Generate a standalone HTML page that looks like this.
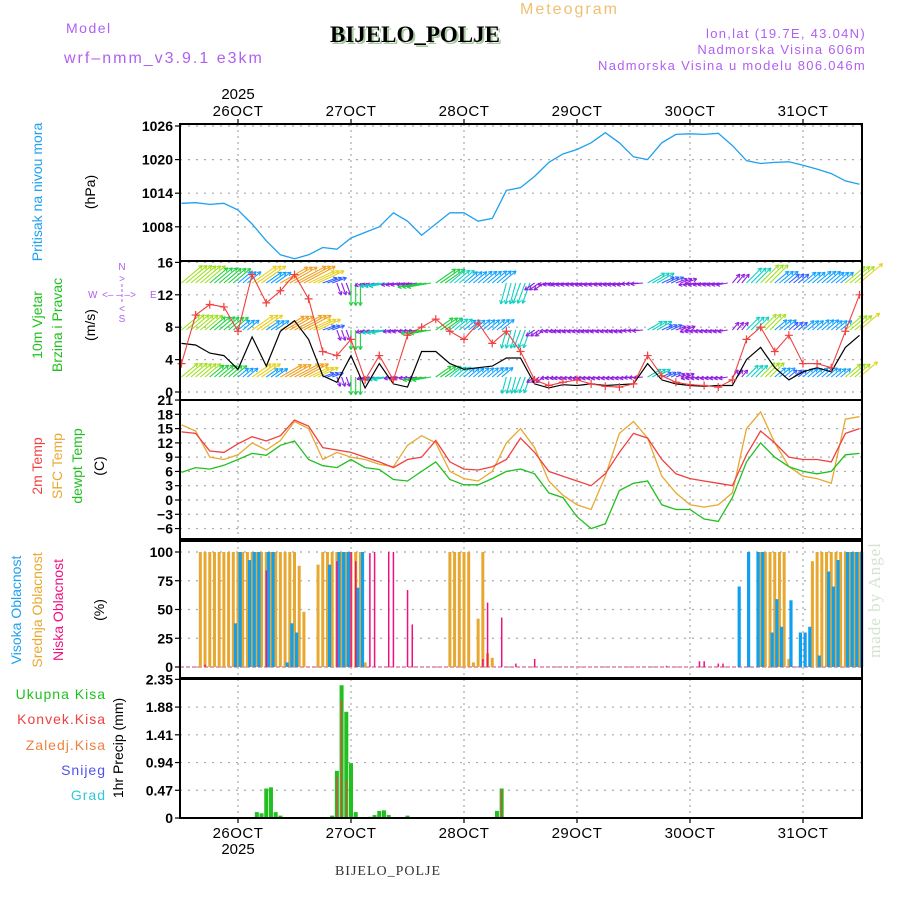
<!DOCTYPE html>
<html><head><meta charset="utf-8"><title>Meteogram BIJELO_POLJE</title>
<style>
html,body{margin:0;padding:0;background:#fff;}
svg{display:block;font-family:"Liberation Sans",sans-serif;}
</style></head>
<body>
<svg id="chart" width="900" height="900" viewBox="0 0 900 900" xmlns="http://www.w3.org/2000/svg">
<rect width="900" height="900" fill="#fff"/>
<text x="66" y="33" fill="#b060f0" font-size="14" letter-spacing="1.5">Model</text>
<text x="64" y="63" fill="#b060f0" font-size="16" letter-spacing="2">wrf–nmm_v3.9.1 e3km</text>
<text x="520" y="14" fill="#f0c070" font-size="16" letter-spacing="2">Meteogram</text>
<text x="332" y="44" fill="#a8c8a0" font-size="23" font-weight="bold" font-family="Liberation Serif,serif">BIJELO_POLJE</text>
<text x="330" y="42" fill="#000" font-size="23" font-weight="bold" font-family="Liberation Serif,serif">BIJELO_POLJE</text>
<text x="866" y="38" fill="#b060f0" font-size="13" letter-spacing="1.3" text-anchor="end">lon,lat (19.7E, 43.04N)</text>
<text x="866" y="54" fill="#b060f0" font-size="13" letter-spacing="1.3" text-anchor="end">Nadmorska Visina 606m</text>
<text x="866" y="70" fill="#b060f0" font-size="13" letter-spacing="1.3" text-anchor="end">Nadmorska Visina u modelu 806.046m</text>
<text x="880" y="600" fill="#d4e4d0" font-size="17" font-family="Liberation Serif,serif" letter-spacing="1" transform="rotate(-90 880 600)" text-anchor="middle">made by Angel</text>
<g id="g-grid"></g>
<g id="g-data"></g>
<g id="g-axes"></g>
<g id="g-labels" font-size="14">
<text transform="translate(42,192) rotate(-90)" text-anchor="middle" fill="#1ea0f0">Pritisak na nivou mora</text>
<text transform="translate(95,192) rotate(-90)" text-anchor="middle" fill="#000">(hPa)</text>
<text transform="translate(42,325) rotate(-90)" text-anchor="middle" fill="#20c020">10m Vjetar</text>
<text transform="translate(62,325) rotate(-90)" text-anchor="middle" fill="#20c020">Brzina i Pravac</text>
<text transform="translate(95,325) rotate(-90)" text-anchor="middle" fill="#000">(m/s)</text>
<g fill="#b060f0" font-size="10">
<text x="122" y="270" text-anchor="middle">N</text><text x="122" y="282" text-anchor="middle">&gt;</text>
<text x="88" y="298">W</text><text x="102" y="298">&lt;– – –&gt;</text><text x="150" y="298">E</text>
<text x="122" y="312" text-anchor="middle">&lt;</text><text x="122" y="322" text-anchor="middle">S</text>
<line x1="122" y1="284" x2="122" y2="304" stroke="#b060f0" stroke-dasharray="3,2"/>
</g>
<text transform="translate(42,466) rotate(-90)" text-anchor="middle" fill="#f04040">2m Temp</text>
<text transform="translate(62,466) rotate(-90)" text-anchor="middle" fill="#e8a830">SFC Temp</text>
<text transform="translate(82,466) rotate(-90)" text-anchor="middle" fill="#20c020">dewpt Temp</text>
<text transform="translate(104,466) rotate(-90)" text-anchor="middle" fill="#000">(C)</text>
<text transform="translate(21,610) rotate(-90)" text-anchor="middle" fill="#1ea0f0">Visoka Oblacnost</text>
<text transform="translate(42,610) rotate(-90)" text-anchor="middle" fill="#e8a830">Srednja Oblacnost</text>
<text transform="translate(63,610) rotate(-90)" text-anchor="middle" fill="#f01080">Niska Oblacnost</text>
<text transform="translate(104,610) rotate(-90)" text-anchor="middle" fill="#000">(%)</text>
<g text-anchor="end" font-size="14" letter-spacing="1">
<text x="106" y="699" fill="#20c020">Ukupna Kisa</text>
<text x="106" y="724" fill="#f04040">Konvek.Kisa</text>
<text x="106" y="750" fill="#f08040">Zaledj.Kisa</text>
<text x="106" y="775" fill="#5050f0">Snijeg</text>
<text x="106" y="800" fill="#30c8d8">Grad</text>
</g>
<text transform="translate(123,748) rotate(-90)" text-anchor="middle" fill="#000">1hr Precip (mm)</text>
<text x="388" y="875" text-anchor="middle" font-family="Liberation Serif,serif" font-size="14" fill="#333" letter-spacing="1">BIJELO_POLJE</text>
</g>
</svg>
<script>
// ---- data (3-hourly, starting 25OCT 12Z, hour offsets relative to 26OCT 00Z) ----
const startHour = -12;
const stepHours = 3;
const dayLabels = ["26OCT","27OCT","28OCT","29OCT","30OCT","31OCT"];
const pressure = [1012.2,1012.3,1012.0,1012.2,1011.0,1008.5,1005.5,1003.0,1002.3,1003.0,1004.3,1004.0,1006.0,1007.0,1008.0,1010.5,1009.0,1006.5,1008.5,1010.5,1010.5,1009.0,1009.5,1014.5,1015.0,1017.0,1019.5,1021.0,1021.8,1023.0,1024.8,1023.0,1020.5,1020.0,1023.0,1024.5,1024.6,1024.5,1024.7,1022.5,1019.8,1019.3,1019.5,1019.6,1019.0,1018.3,1017.5,1016.2,1015.6];
const windSpeed = [6.0,5.8,4.8,4.5,2.8,6.8,3.2,7.5,8.8,6.5,2.0,1.2,4.5,0.5,3.5,1.0,0.6,5.0,5.0,3.5,2.8,3.0,3.2,4.2,4.2,1.0,0.5,0.9,0.8,1.0,0.8,0.9,1.0,3.5,1.5,1.0,0.8,0.7,0.8,0.8,4.0,5.5,3.0,1.5,2.5,3.0,2.5,5.5,7.0];
const windGust = [3.5,9.5,10.8,10.5,7.5,14.5,11.0,12.5,14.5,11.5,5.0,4.5,6.5,1.5,4.5,1.5,7.0,8.0,9.0,7.5,6.5,8.5,6.0,7.5,5.0,1.5,0.8,1.2,1.5,1.0,0.7,0.6,1.0,4.5,2.0,1.2,0.9,0.8,0.6,1.5,6.5,8.0,5.0,7.0,3.5,3.5,3.0,7.5,12.0];
const windDir = [50,50,50,50,50,55,55,60,62,65,70,160,180,255,260,260,260,260,55,50,50,50,50,195,200,235,260,260,260,260,260,260,265,60,65,70,260,260,260,40,45,45,50,50,50,50,50,50,50];
const temp2m = [14.3,14.0,10.3,10.0,11.8,13.3,12.4,13.5,16.8,15.5,11.0,10.5,10.0,9.0,8.0,6.8,8.5,9.0,12.5,8.0,6.5,6.3,7.0,8.5,13.0,10.0,6.0,5.0,4.0,3.0,5.5,10.0,14.0,13.0,8.5,5.5,4.5,4.0,3.5,3.0,9.5,14.5,12.0,9.0,8.5,8.5,8.0,14.0,15.0];
const tempSfc = [15.8,14.5,9.0,8.5,9.5,12.0,10.5,12.5,16.5,15.0,8.5,10.0,9.0,8.5,7.5,7.0,11.5,13.5,12.0,6.0,4.5,4.0,6.0,12.0,15.0,11.0,4.0,1.0,-1.0,-2.0,5.0,14.0,16.5,13.0,5.0,1.5,-1.0,-1.5,-1.0,1.5,15.0,18.5,12.0,7.0,5.0,4.5,3.5,17.0,17.5];
const dewpoint = [5.8,6.8,6.5,7.3,8.5,9.8,9.4,11.5,12.4,8.5,7.2,6.8,8.5,6.8,6.4,4.3,4.0,6.0,8.0,4.3,3.2,3.2,4.5,6.0,6.5,5.5,1.5,0.5,-3.5,-6.0,-5.0,2.0,3.5,4.0,-1.0,-2.0,-2.0,-4.0,-4.5,0.5,8.0,12.0,9.0,7.0,6.0,5.5,6.0,9.5,9.8];
// hourly cloud cover (sparse: hour offset, percent)
const midCloudHours = [-8,-7,-6,-5,-4,-3,-2,-1,0,1,2,3,4,5,6,7,8,9,10,11,12,13,14,17,18,19,20,21,22,23,24,25,26,27,45,46,47,48,49,50,51,52,53,54,111,112,113,114,115,116,117,122,123,124,125,126,127,128,129,130,131,132];
const midCloudVals = [100,100,100,100,100,100,100,100,100,100,100,100,100,100,100,100,100,100,100,100,100,88,48,89,100,100,100,100,100,100,100,100,100,4,100,100,100,100,100,4,42,100,12,8,100,100,100,100,100,100,7,92,100,100,100,100,100,100,100,100,100,100];
const highCloudHours = [-1,0,2,3,4,6,7,10,11,12,19,21,22,23,25,26,106,108,110,111,113,114,115,117,119,120,121,123,125,126,127,129,130,131,132];
const highCloudVals = [38,100,93,100,100,100,100,4,38,30,89,100,100,100,69,100,70,100,100,100,30,59,35,58,30,30,35,10,83,70,93,100,100,100,100];
const lowCloudHours = [-7,6,21,24,25,28,29,32,33,36,37,52,53,56,59,63,91,98,99,102,103];
const lowCloudVals = [2,84,92,100,92,99,100,100,100,67,37,7,56,43,3,7,1,5,5,3,3];
// hourly precipitation (sparse)
const precipHours = [4,5,6,7,8,9,20,21,22,23,24,25,28,29,30,31,32,36,55,56];
const precipTotal = [0.10,0.08,0.50,0.52,0.10,0.04,0.04,0.80,2.25,1.80,0.93,0.10,0.02,0.05,0.12,0.13,0.05,0.04,0.12,0.50];
const precipConv = [0,0,0,0,0,0,0,0.70,2.00,0.65,0,0,0,0,0,0,0,0,0,0.48];
const pTicks = [1008,1014,1020,1026];
const wTicks = [0,4,8,12,16];
const tTicks = [-6,-3,0,3,6,9,12,15,18,21];
const cTicks = [0,25,50,75,100];
const rTicks = [0,0.47,0.94,1.41,1.88,2.35];

// ---- scales ----
const X0 = 180, X1 = 862;
const X = h => 238 + h * 113 / 24;
const yP = v => 126 + (1026 - v) * 5.6;
const yW = v => 392 - v * 8.1;
const yT = v => 500 - v * 4.76;
const yC = v => 667 - v * 1.15;
const yR = v => 818 - v * 59;
const hourOf = k => startHour + k * stepHours;
const NS = "http://www.w3.org/2000/svg";
function mk(tag, attrs, parent) {
  const e = document.createElementNS(NS, tag);
  for (const k in attrs) e.setAttribute(k, attrs[k]);
  parent.appendChild(e);
  return e;
}
const gGrid = document.getElementById('g-grid');
const gData = document.getElementById('g-data');
const gAxes = document.getElementById('g-axes');
const panels = [[124,261],[261,400],[400,539],[541,678],[679,818]];

// grid
[[pTicks,yP],[wTicks,yW],[tTicks,yT],[cTicks,yC],[rTicks,yR]].forEach(([ticks,f])=>{
  ticks.forEach(t=>{
    const l = mk('line',{x1:X0,x2:X1,y1:f(t),y2:f(t),stroke:'#aaa','stroke-dasharray':'2,6','stroke-width':1.2},gGrid);
    
    
  });
});
dayLabels.forEach((d,i)=>{
  panels.forEach(p=>{
    const l = mk('line',{x1:X(i*24),x2:X(i*24),y1:p[0],y2:p[1],stroke:'#aaa','stroke-dasharray':'2,4','stroke-width':1.2},gGrid);
    
    
  });
});

// pressure line
const pPts = pressure.map((v,k)=>X(hourOf(k)).toFixed(1)+','+yP(v).toFixed(1)).join(' ');
const pl = mk('polyline',{points:pPts,fill:'none',stroke:'#1ea0f0','stroke-width':1.3},gData);



// wind arrows
function spdColor(s){
  if(s<1.5) return '#9020e0'; if(s<2.5) return '#3060ff'; if(s<3.5) return '#10a0ff';
  if(s<4.5) return '#10d0c0'; if(s<5.5) return '#20d040'; if(s<6.5) return '#a0e020';
  if(s<7.5) return '#e8d020'; if(s<9) return '#f0a020'; return '#f06020';
}
const rowsY = [283,330,377];
const rowScale = [1.15,1.0,0.9];
windDir.forEach((d,k)=>{
  const s = windSpeed[k];
  const col = spdColor(s);
  rowsY.forEach((ry,ri)=>{
    [0,4.7,9.4].forEach(off=>{
      const x = X(hourOf(k)) + off;
      if (x > X1 - 2) return;
      const L = (8 + s * 2.6) * rowScale[ri];
      const a = d * Math.PI / 180;
      const hx = x + Math.sin(a) * L, hy = ry - Math.cos(a) * L;
      const g = mk('g',{stroke:col,'stroke-width':1.1,fill:'none'},gData);
      
      
      mk('line',{x1:x,y1:ry,x2:hx,y2:hy},g);
      const ux = (hx-x)/L, uy = (hy-ry)/L;
      [0.5,-0.5].forEach(t=>{
        const c = Math.cos(Math.PI - t), sn = Math.sin(Math.PI - t);
        mk('line',{x1:hx,y1:hy,x2:hx+(ux*c-uy*sn)*4,y2:hy+(ux*sn+uy*c)*4},g);
      });
    });
  });
});

// wind speed & gust
const wl = mk('polyline',{points:windSpeed.map((v,k)=>X(hourOf(k)).toFixed(1)+','+yW(v).toFixed(1)).join(' '),fill:'none',stroke:'#000','stroke-width':1.2},gData);


const gl = mk('polyline',{points:windGust.map((v,k)=>X(hourOf(k)).toFixed(1)+','+yW(v).toFixed(1)).join(' '),fill:'none',stroke:'#f04040','stroke-width':1.1},gData);


windGust.forEach((v,k)=>{
  const x = X(hourOf(k)), y = yW(v);
  const m = mk('path',{d:`M${x-4},${y}h8M${x},${y-4}v8`,stroke:'#f04040','stroke-width':1.2},gData);
  
  
});

// temperatures
[[tempSfc,'#e8a830','sfc-temp-line'],[temp2m,'#f04040','temp-2m-line'],[dewpoint,'#20c020','dewpoint-line']].forEach(([arr,col,name])=>{
  const l = mk('polyline',{points:arr.map((v,k)=>X(hourOf(k)).toFixed(1)+','+yT(v).toFixed(1)).join(' '),fill:'none',stroke:col,'stroke-width':1.3},gData);
  
  
});

// clouds
const base = mk('line',{x1:X0,x2:X1,y1:yC(0),y2:yC(0),stroke:'#e8a0c0','stroke-width':2,'stroke-dasharray':'4,2'},gData);


midCloudHours.forEach((h,i)=>{
  const v = midCloudVals[i];
  const r = mk('rect',{x:X(h)-1.5,y:yC(v),width:3,height:yC(0)-yC(v),fill:'#e8a830'},gData);
  
  
});
highCloudHours.forEach((h,i)=>{
  const v = highCloudVals[i];
  const r = mk('rect',{x:X(h)+0.5,y:yC(v),width:3.2,height:yC(0)-yC(v),fill:'#10a0f0'},gData);
  
  
});
lowCloudHours.forEach((h,i)=>{
  const v = lowCloudVals[i];
  const r = mk('rect',{x:X(h)-0.7,y:yC(v),width:1.5,height:yC(0)-yC(v),fill:'#f01080'},gData);
  
  
});

// precipitation
precipHours.forEach((h,i)=>{
  const v = precipTotal[i];
  const r = mk('rect',{x:X(h)-2,y:yR(v),width:4,height:yR(0)-yR(v),fill:'#20c020'},gData);
  
  
  const c = precipConv[i];
  if (c > 0) {
    const rc = mk('rect',{x:X(h)-0.6,y:yR(c),width:1.2,height:yR(0)-yR(c),fill:'#f04040'},gData);
    
    
  }
});

// frames
panels.forEach((p,i)=>{
  const r = mk('rect',{x:X0,y:p[0],width:X1-X0,height:p[1]-p[0],fill:'none',stroke:'#000','stroke-width':2},gAxes);
  
  
});
// tick labels
[[pTicks,yP,v=>String(v)],[wTicks,yW,v=>String(v)],[tTicks,yT,v=>v<0?'−'+(-v):String(v)],[cTicks,yC,v=>String(v)],[rTicks,yR,v=>v===0?'0':v.toFixed(2)]].forEach(([ticks,f,fmt])=>{
  ticks.forEach(t=>{
    const y = f(t);
    const tl = mk('line',{x1:175,x2:X0,y1:y,y2:y,stroke:'#000','stroke-width':1.2},gAxes);
    
    
    const tx = mk('text',{x:173,y:y+5,'text-anchor':'end','font-size':14,'font-weight':'bold',fill:'#000'},gAxes);
    tx.textContent = fmt(t);
    
    
  });
});
// x axis labels
dayLabels.forEach((d,i)=>{
  const x = X(i*24);
  const t1 = mk('text',{x:x,y:116,'text-anchor':'middle','font-size':15,fill:'#000','letter-spacing':0.5},gAxes);
  t1.textContent = d;
  
  
  const t2 = mk('text',{x:x,y:838,'text-anchor':'middle','font-size':15,fill:'#000','letter-spacing':0.5},gAxes);
  t2.textContent = d;
  
  
  [[124,119],[818,823]].forEach(([a,b])=>{
    const tk = mk('line',{x1:x,x2:x,y1:a,y2:b,stroke:'#000','stroke-width':1.2},gAxes);
    
    
  });
});
const yr1 = mk('text',{x:X(0),y:99,'text-anchor':'middle','font-size':15,fill:'#000'},gAxes);
yr1.textContent = '2025';


const yr2 = mk('text',{x:X(0),y:854,'text-anchor':'middle','font-size':15,fill:'#000'},gAxes);
yr2.textContent = '2025';


</script>
</body></html>
